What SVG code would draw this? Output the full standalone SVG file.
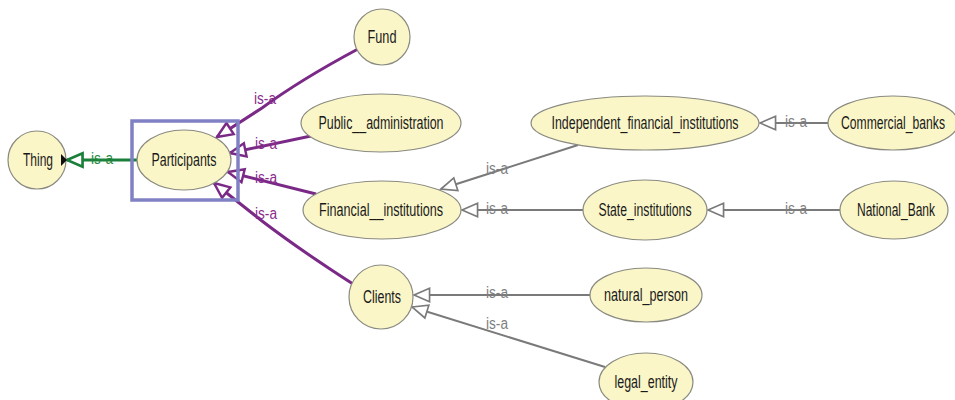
<svg xmlns="http://www.w3.org/2000/svg" width="955" height="400" viewBox="0 0 955 400">
<style>
.n{fill:#faf6c8;stroke:#8a8a80;stroke-width:1.2}
.t{font-family:"Liberation Sans",Arial,sans-serif;font-size:17.5px;fill:#1a1a1a;text-anchor:middle}
.l{font-family:"Liberation Sans",Arial,sans-serif;font-size:16px;text-anchor:middle}
.lp{fill:#8a2c8c}.lg{fill:#808080}.lgr{fill:#1f8a3c}
.ep{fill:none;stroke:#7a2a86;stroke-width:3}
.eg{fill:none;stroke:#7a7a7a;stroke-width:2}
.egr{fill:none;stroke:#1a7f3a;stroke-width:3}
</style>
<defs>
<marker id="ap" markerUnits="userSpaceOnUse" markerWidth="20" markerHeight="20" viewBox="-2 -8 18 16" refX="0" refY="0" orient="auto"><path d="M0,0 L14,-6 L14,6 Z" fill="#fff" stroke="#7a2a86" stroke-width="2.2"/></marker>
<marker id="ag" markerUnits="userSpaceOnUse" markerWidth="20" markerHeight="20" viewBox="-2 -8 18 16" refX="0" refY="0" orient="auto"><path d="M0,0 L14,-6 L14,6 Z" fill="#fff" stroke="#7a7a7a" stroke-width="1.5"/></marker>
<marker id="agr" markerUnits="userSpaceOnUse" markerWidth="20" markerHeight="20" viewBox="-2 -8 18 16" refX="0" refY="0" orient="auto"><path d="M0,0 L14,-6 L14,6 Z" fill="#fff" stroke="#1a7f3a" stroke-width="2.4"/></marker>
</defs>
<rect x="0" y="0" width="955" height="400" fill="#fff"/>
<g id="connectors">
<path class="egr" d="M67,160 L137,160" marker-start="url(#agr)"/>
<text class="l lgr" x="102" y="164" textLength="22" lengthAdjust="spacingAndGlyphs">is-a</text>
<path class="ep" d="M217,137 L262,108 Q300,80 358,49" marker-start="url(#ap)"/>
<text class="l lp" x="265" y="104" textLength="22" lengthAdjust="spacingAndGlyphs">is-a</text>
<path class="ep" d="M230,153 L311,136" marker-start="url(#ap)"/>
<text class="l lp" x="266" y="149" textLength="22" lengthAdjust="spacingAndGlyphs">is-a</text>
<path class="ep" d="M228,172 L316,194" marker-start="url(#ap)"/>
<text class="l lp" x="266" y="183" textLength="22" lengthAdjust="spacingAndGlyphs">is-a</text>
<path class="ep" d="M214,183 L262,221 Q300,250 353,284" marker-start="url(#ap)"/>
<text class="l lp" x="266" y="219" textLength="22" lengthAdjust="spacingAndGlyphs">is-a</text>
<path class="eg" d="M441,189 L578,145" marker-start="url(#ag)"/>
<text class="l lg" x="497" y="174" textLength="22" lengthAdjust="spacingAndGlyphs">is-a</text>
<path class="eg" d="M760,123 L828,123" marker-start="url(#ag)"/>
<text class="l lg" x="796" y="127" textLength="22" lengthAdjust="spacingAndGlyphs">is-a</text>
<path class="eg" d="M462,210 L583,210" marker-start="url(#ag)"/>
<text class="l lg" x="497" y="214" textLength="22" lengthAdjust="spacingAndGlyphs">is-a</text>
<path class="eg" d="M708,210 L840,210" marker-start="url(#ag)"/>
<text class="l lg" x="796" y="214" textLength="22" lengthAdjust="spacingAndGlyphs">is-a</text>
<path class="eg" d="M414,295 L590,295" marker-start="url(#ag)"/>
<text class="l lg" x="497" y="298" textLength="22" lengthAdjust="spacingAndGlyphs">is-a</text>
<path class="eg" d="M412,307 L605,367" marker-start="url(#ag)"/>
<text class="l lg" x="497" y="329" textLength="22" lengthAdjust="spacingAndGlyphs">is-a</text>
</g>
<g id="Thing"><circle class="n" cx="37" cy="160" r="29"/><text class="t" x="38" y="166" textLength="30" lengthAdjust="spacingAndGlyphs">Thing</text><path d="M61,154 L67,160 L61,166 Z" fill="#111"/></g>
<g id="Participants"><rect x="132" y="121" width="106" height="79" fill="none" stroke="#8080c4" stroke-width="3.5"/><ellipse class="n" cx="184" cy="160" rx="47" ry="30"/><text class="t" x="184" y="166" textLength="65" lengthAdjust="spacingAndGlyphs">Participants</text></g>
<g id="Fund"><circle class="n" cx="382" cy="37" r="28"/><text class="t" x="382" y="43" textLength="29" lengthAdjust="spacingAndGlyphs">Fund</text></g>
<g id="Public__administration"><ellipse class="n" cx="381" cy="123" rx="80" ry="29"/><text class="t" x="381" y="129" textLength="125" lengthAdjust="spacingAndGlyphs">Public__administration</text></g>
<g id="Financial__institutions"><ellipse class="n" cx="382" cy="210" rx="79" ry="29"/><text class="t" x="381" y="216" textLength="124" lengthAdjust="spacingAndGlyphs">Financial__institutions</text></g>
<g id="Clients"><circle class="n" cx="381" cy="297" r="32"/><text class="t" x="382" y="303" textLength="38" lengthAdjust="spacingAndGlyphs">Clients</text></g>
<g id="Independent_financial_institutions"><ellipse class="n" cx="645" cy="123" rx="114" ry="27"/><text class="t" x="645" y="129" textLength="187" lengthAdjust="spacingAndGlyphs">Independent_financial_institutions</text></g>
<g id="Commercial_banks"><ellipse class="n" cx="893" cy="123" rx="65" ry="27"/><text class="t" x="893" y="129" textLength="104" lengthAdjust="spacingAndGlyphs">Commercial_banks</text></g>
<g id="State_institutions"><ellipse class="n" cx="645" cy="210" rx="62" ry="30"/><text class="t" x="645" y="216" textLength="93" lengthAdjust="spacingAndGlyphs">State_institutions</text></g>
<g id="National_Bank"><ellipse class="n" cx="894" cy="210" rx="54" ry="29"/><text class="t" x="896" y="216" textLength="78" lengthAdjust="spacingAndGlyphs">National_Bank</text></g>
<g id="natural_person"><ellipse class="n" cx="646" cy="295" rx="56" ry="27"/><text class="t" x="646" y="301" textLength="84" lengthAdjust="spacingAndGlyphs">natural_person</text></g>
<g id="legal_entity"><ellipse class="n" cx="646" cy="382" rx="47" ry="29"/><text class="t" x="646" y="388" textLength="63" lengthAdjust="spacingAndGlyphs">legal_entity</text></g>
</svg>
